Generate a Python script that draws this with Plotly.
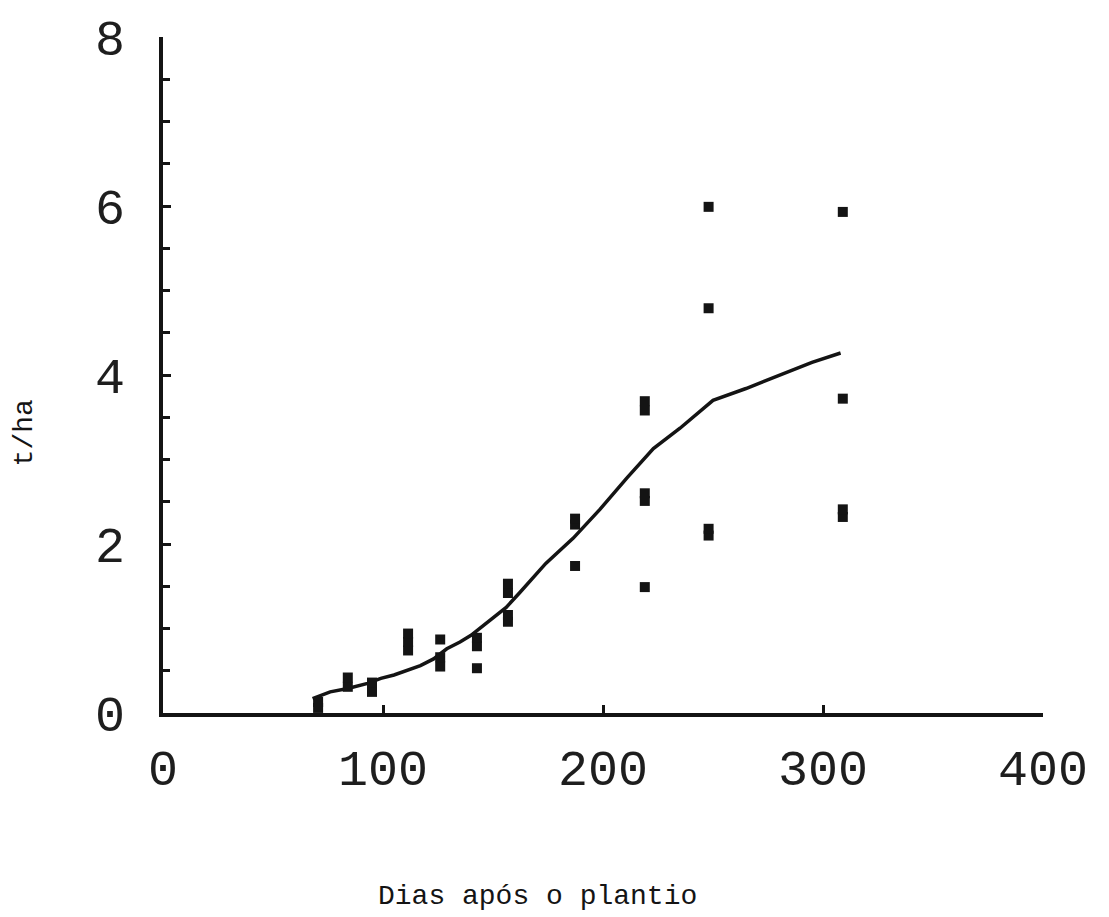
import plotly.graph_objects as go

# Observed yields (t/ha) by days after planting
obs_days = [70.5, 70.5,
            84, 84,
            95, 95,
            111.4, 111.4, 111.4,
            126, 126, 126,
            142.7, 142.7, 142.7,
            156.8, 156.8, 156.8, 156.8,
            187.3, 187.3, 187.3,
            219, 219, 219, 219, 219,
            248, 248, 248, 248,
            309, 309, 309, 309]
obs_yield = [0.06, 0.13,
             0.31, 0.42,
             0.25, 0.36,
             0.74, 0.84, 0.94,
             0.55, 0.66, 0.87,
             0.53, 0.79, 0.89,
             1.08, 1.16, 1.42, 1.53,
             1.74, 2.23, 2.30,
             1.49, 2.51, 2.60, 3.58, 3.69,
             2.10, 2.18, 4.79, 5.99,
             2.32, 2.41, 3.72, 5.93]

# Fitted growth curve
fit_days = [68, 76, 84, 93, 99, 105, 117, 123, 129, 135, 140, 144, 150, 156,
            162, 166, 174, 186.5, 198.6, 210.8, 222.9, 235, 244, 250, 265,
            280, 295, 308]
fit_yield = [0.17, 0.25, 0.29, 0.35, 0.41, 0.45, 0.56, 0.64, 0.76, 0.84, 0.92,
             1.0, 1.13, 1.25, 1.42, 1.54, 1.77, 2.07, 2.41, 2.78, 3.13, 3.37,
             3.56, 3.70, 3.84, 4.0, 4.15, 4.26]

x_ticks = [0, 100, 200, 300, 400]
y_ticks = [0, 2, 4, 6, 8]

ink = "#141414"
tick_font = dict(family="Liberation Mono", size=50, color="#1e1e1e")

fig = go.Figure()
fig.add_trace(go.Scatter(
    x=fit_days, y=fit_yield, mode="lines",
    line=dict(color=ink, width=3.5), hoverinfo="skip"))
fig.add_trace(go.Scatter(
    x=obs_days, y=obs_yield, mode="markers",
    marker=dict(symbol="square", size=10, color=ink, line=dict(width=0))))

fig.update_layout(
    width=1109, height=917,
    margin=dict(l=163, r=66, t=33, b=204),
    paper_bgcolor="white", plot_bgcolor="white",
    showlegend=False,
    xaxis=dict(range=[0, 400], tickvals=x_ticks, ticktext=[str(v) for v in x_ticks],
               showgrid=False, zeroline=False, showline=True, linecolor=ink,
               linewidth=4, ticks="inside", ticklen=8, tickwidth=3, tickcolor=ink,
               tickfont=tick_font, ticklabelstandoff=8),
    yaxis=dict(range=[0, 8], tickvals=y_ticks, ticktext=[str(v) for v in y_ticks],
               showgrid=False, zeroline=False, showline=True, linecolor=ink,
               linewidth=4, ticks="inside", ticklen=8, tickwidth=3, tickcolor=ink,
               tickfont=tick_font, ticklabelstandoff=24,
               minor=dict(dtick=0.5, ticks="inside", ticklen=7, tickwidth=3,
                          tickcolor=ink, showgrid=False)),
    annotations=[
        dict(text="Dias após o plantio", xref="paper", yref="paper",
             x=0.4256, y=-0.245, xanchor="center", yanchor="top", showarrow=False,
             font=dict(family="Liberation Mono", size=28, color=ink)),
        dict(text="t/ha", xref="paper", yref="paper", textangle=-90,
             x=-0.158, y=0.415, xanchor="center", yanchor="middle", showarrow=False,
             font=dict(family="Liberation Mono", size=28, color=ink)),
    ],
)

fig.write_html("out.html")
